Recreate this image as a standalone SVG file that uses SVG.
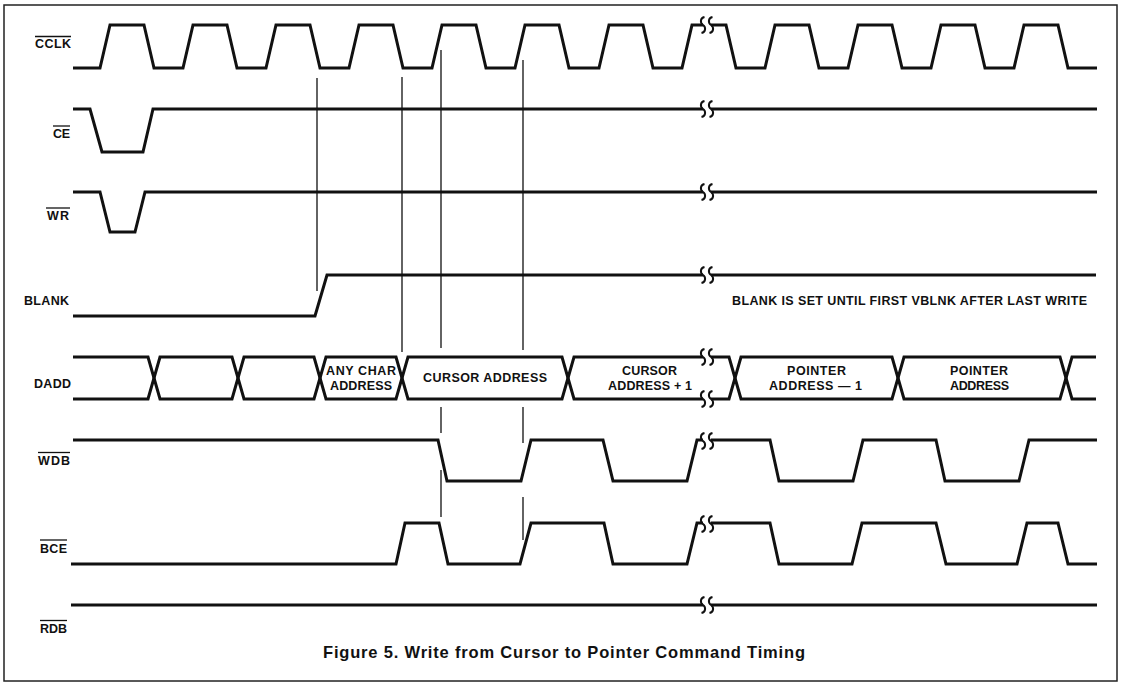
<svg xmlns="http://www.w3.org/2000/svg" xmlns:xlink="http://www.w3.org/1999/xlink" width="1121" height="683" viewBox="0 0 1121 683">
<style>
.w{fill:none;stroke:#111;stroke-width:3;stroke-linejoin:miter;stroke-miterlimit:10}
.t{fill:none;stroke:#111;stroke-width:1.3}
.sq{fill:none;stroke:#111;stroke-width:2}
.ov{stroke:#111;stroke-width:1.3}
.lbl{font-family:"Liberation Sans",Arial,Helvetica,sans-serif;font-weight:bold;font-size:12.5px;fill:#111}
.cap{font-family:"Liberation Sans",Arial,Helvetica,sans-serif;font-weight:bold;font-size:16.5px;fill:#111}
</style>
<defs>
<path id="sq" class="sq" d="M1.5,-8 C-3,-7 -3,-2 0,0 C3,2 3,7 -1.5,8"/>
</defs>
<rect x="0" y="0" width="1121" height="683" fill="#fff"/>
<rect x="4" y="5" width="1113" height="676" fill="none" stroke="#222" stroke-width="1.5"/>

<g id="cclk">
<path class="w" d="M73,68 H100 L110,25 H144 L154,68 H183 L193,25 H227 L237,68 H266 L276,25 H310 L320,68 H349 L359,25 H393 L403,68 H432 L442,25 H476 L486,68 H515 L525,25 H559 L569,68 H599 L609,25 H643 L653,68 H682 L692,25 H703 M711,25 H726 L736,68 H765 L775,25 H809 L819,68 H848 L858,25 H892 L902,68 H931 L941,25 H975 L985,68 H1014 L1024,25 H1058 L1068,68 H1097"/>
<use xlink:href="#sq" x="703" y="25"/><use xlink:href="#sq" x="711" y="25"/>
<text class="lbl" x="35" y="48" textLength="36" lengthAdjust="spacing">CCLK</text>
<line class="ov" x1="35" y1="36.5" x2="71" y2="36.5"/>
</g>

<g id="ce">
<path class="w" d="M73,109 H90 L102,152 H143 L153,109 H703 M711,109 H1097"/>
<use xlink:href="#sq" x="703" y="109"/><use xlink:href="#sq" x="711" y="109"/>
<text class="lbl" x="53" y="138" textLength="17" lengthAdjust="spacing">CE</text>
<line class="ov" x1="53" y1="126" x2="70" y2="126"/>
</g>

<g id="wr">
<path class="w" d="M73,192 H100 L110,232 H135 L145,192 H703 M711,192 H1097"/>
<use xlink:href="#sq" x="703" y="192"/><use xlink:href="#sq" x="711" y="192"/>
<text class="lbl" x="47" y="220" textLength="22" lengthAdjust="spacing">WR</text>
<line class="ov" x1="46" y1="208" x2="70" y2="208"/>
</g>

<g id="blank">
<path class="w" d="M73,316 H315 L327,275 H703 M711,275 H1096"/>
<use xlink:href="#sq" x="703" y="275"/><use xlink:href="#sq" x="711" y="275"/>
<text class="lbl" x="24" y="305" textLength="45" lengthAdjust="spacing">BLANK</text>
<text class="lbl" x="732" y="305" textLength="355" lengthAdjust="spacing">BLANK IS SET UNTIL FIRST VBLNK AFTER LAST WRITE</text>
</g>

<g id="dadd">
<path class="w" d="M73,357 H148 L160,399 H232 L244,357 H314 L326,399 H396 L408,357 H562 L574,399 H703 M711,399 H729 L741,357 H892 L904,399 H1060 L1072,357 H1096"/>
<path class="w" d="M73,399 H148 L160,357 H232 L244,399 H314 L326,357 H396 L408,399 H562 L574,357 H703 M711,357 H729 L741,399 H892 L904,357 H1060 L1072,399 H1096"/>
<use xlink:href="#sq" x="703" y="357"/><use xlink:href="#sq" x="711" y="357"/>
<use xlink:href="#sq" x="703" y="399"/><use xlink:href="#sq" x="711" y="399"/>
<text class="lbl" x="34" y="388" textLength="37" lengthAdjust="spacing">DADD</text>
<text class="lbl" x="326" y="375" textLength="70" lengthAdjust="spacing">ANY CHAR</text>
<text class="lbl" x="330" y="390" textLength="62" lengthAdjust="spacing">ADDRESS</text>
<text class="lbl" x="423" y="382" textLength="124" lengthAdjust="spacing">CURSOR ADDRESS</text>
<text class="lbl" x="622" y="375" textLength="55" lengthAdjust="spacing">CURSOR</text>
<text class="lbl" x="608" y="390" textLength="84" lengthAdjust="spacing">ADDRESS + 1</text>
<text class="lbl" x="787" y="375" textLength="59" lengthAdjust="spacing">POINTER</text>
<text class="lbl" x="769" y="390" textLength="93" lengthAdjust="spacing">ADDRESS — 1</text>
<text class="lbl" x="950" y="375" textLength="58" lengthAdjust="spacing">POINTER</text>
<text class="lbl" x="950" y="390" textLength="59" lengthAdjust="spacing">ADDRESS</text>
</g>

<g id="wdb">
<path class="w" d="M73,440 H438 L447,481 H521 L531,440 H603 L613,481 H687 L697,440 H703 M711,440 H770 L779,481 H853 L863,440 H936 L945,481 H1019 L1029,440 H1097"/>
<use xlink:href="#sq" x="703" y="441"/><use xlink:href="#sq" x="711" y="441"/>
<text class="lbl" x="38" y="465" textLength="32" lengthAdjust="spacing">WDB</text>
<line class="ov" x1="38" y1="452.5" x2="70" y2="452.5"/>
</g>

<g id="bce">
<path class="w" d="M71,564 H396 L405,523 H439 L448,564 H520 L531,523 H604 L613,564 H687 L697,523 H703 M711,523 H770 L779,564 H852 L862,523 H936 L946,564 H1017 L1027,523 H1058 L1068,564 H1097"/>
<use xlink:href="#sq" x="703" y="524"/><use xlink:href="#sq" x="711" y="524"/>
<text class="lbl" x="40" y="553" textLength="27" lengthAdjust="spacing">BCE</text>
<line class="ov" x1="40" y1="540" x2="67" y2="540"/>
</g>

<g id="rdb">
<path class="w" d="M71,605 H703 M711,605 H1097"/>
<use xlink:href="#sq" x="703" y="605"/><use xlink:href="#sq" x="711" y="605"/>
<text class="lbl" x="40" y="633" textLength="27" lengthAdjust="spacing">RDB</text>
<line class="ov" x1="40" y1="620.5" x2="67" y2="620.5"/>
</g>

<g id="connectors">
<path class="t" d="M317,78 V291 M402,77 V352 M441,50 V348 M441,407 V433 M441,470 V517 M523,60 V350 M523,407 V443 M523,497 V540"/>
</g>

<g id="caption">
<text class="cap" x="323" y="658" textLength="482" lengthAdjust="spacing">Figure 5.  Write from Cursor to Pointer Command Timing</text>
</g>
</svg>
